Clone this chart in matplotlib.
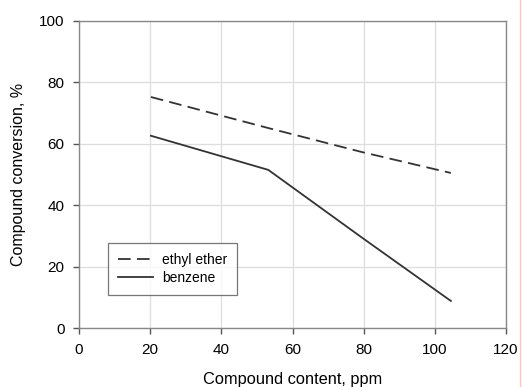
import matplotlib
matplotlib.use("Agg")
import matplotlib.pyplot as plt
from matplotlib.lines import Line2D

plt.rcParams['font.family'] = ['Liberation Sans', 'DejaVu Sans']

# data
content = [20.2, 53.2, 79.5, 104.5]
ethyl_ether = [75.2, 65.1, 57.3, 50.5]
benzene = [62.6, 51.5, 29.5, 8.9]
x_ticks = [0, 20, 40, 60, 80, 100, 120]
y_ticks = [0, 20, 40, 60, 80, 100]

fig = plt.figure(figsize=(5.23, 3.87), dpi=100)
ax = fig.add_axes([79/523, 1 - 328.3/387, (506 - 79)/523, (328.3 - 20.7)/387])

ax.plot(content, ethyl_ether, color='#333333', lw=1.3, ls=(0, (7, 3.5)), label='ethyl ether')
ax.plot(content, benzene, color='#333333', lw=1.3, label='benzene')

ax.set_xlim(0, 120)
ax.set_ylim(0, 100)
ax.set_xticks(x_ticks)
ax.set_yticks(y_ticks)
ax.grid(True, color='#dddddd', lw=0.9)
ax.set_axisbelow(True)
for s in ax.spines.values():
	s.set_color('#888888')
	s.set_linewidth(1.0)
ax.tick_params(direction='out', length=4, width=1.0, color='#555555', labelsize=11, pad=6.5)

ax.set_xlabel('Compound content, ppm', fontsize=11.8, labelpad=11)
ax.set_ylabel('Compound conversion, %', fontsize=11.5, labelpad=9)

leg = ax.legend(loc='lower left', bbox_to_anchor=(8.2/120, 10.8/100), fontsize=10,
	frameon=True, fancybox=False, borderpad=0.7, handlelength=2.5, labelspacing=0.3,
	handletextpad=0.7, borderaxespad=0)
leg.get_frame().set_edgecolor('#555555')
leg.get_frame().set_linewidth(0.9)

# faint border at right edge of the original image
fig.add_artist(Line2D([520/523, 520/523], [0, 1], color='#f5c8c8', lw=1, transform=fig.transFigure))

fig.savefig('out.png', dpi=100)
